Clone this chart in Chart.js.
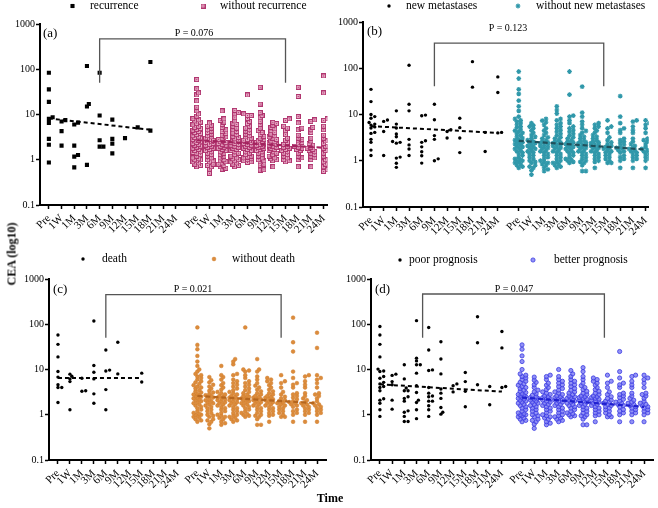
<!DOCTYPE html>
<html><head><meta charset="utf-8">
<script src="https://cdn.jsdelivr.net/npm/chart.js@4.4.1/dist/chart.umd.min.js"></script>
<style>
html,body{margin:0;padding:0;background:#fff;}
#wrap{position:relative;width:658px;height:508px;overflow:hidden;background:#fff;}
canvas{position:absolute;}
.t{position:absolute;font-family:"Liberation Serif","Times New Roman",serif;font-weight:bold;font-size:12px;color:#000;white-space:nowrap;}
</style></head><body>
<div id="wrap">
<canvas id="ca" width="336" height="250" style="left:0px;top:0px"></canvas>
<canvas id="cb" width="336" height="250" style="left:322px;top:0px"></canvas>
<canvas id="cc" width="336" height="258" style="left:0px;top:250px"></canvas>
<canvas id="cd" width="336" height="258" style="left:322px;top:250px"></canvas>
<div class="t" style="left:12px;top:254px;transform:translate(-50%,-50%) rotate(-90deg);">CEA (log10)</div>
<div class="t" style="left:330px;top:498px;transform:translate(-50%,-50%);">Time</div>
</div>
<script>
// ---------------- DATA ----------------
const timeLabels = ['Pre','1W','1M','3M','6M','9M','12M','15M','18M','21M','24M'];
const yTickValues = [0.1, 1, 10, 100, 1000];
const yTickLabels = ['0.1', '1', '10', '100', '1000'];

// (a)
const recurrence = [
  [84, 36, 19, 8.7, 8, 6.5, 2.9, 2.15, 0.87],
  [7.5, 7.0, 4.3, 2.05],
  [6.6, 6.0, 2.05, 1.27, 1.17, 0.68],
  [118, 17, 15, 0.77],
  [84, 9.5, 2.7, 1.95, 1.95],
  [7.7, 2.9, 2.27, 1.38],
  [3.0],
  [5.2],
  [145, 4.4],
  [],
  []
];
const withoutRecurrence = [
  [59, 37, 30, 27, 20, 14.5, 12, 10.3, 9.2, 8.1, 7.6, 7.2, 6.8, 6.3, 5.9, 5.5, 5.2, 4.9, 4.7, 4.5, 4.2, 4.0, 3.8, 3.6, 3.4, 3.2, 3.1, 3.0, 2.9, 2.8, 2.7, 2.6, 2.5, 2.4, 2.3, 2.2, 2.1, 2.0, 1.9, 1.8, 1.7, 1.6, 1.5, 1.45, 1.4, 1.3, 1.2, 1.1, 1.05, 1.0, 1.0, 0.95, 0.9, 0.85, 0.8, 0.75, 0.7],
  [6.5, 5.8, 5.5, 5.0, 4.6, 4.3, 4.0, 3.7, 3.4, 3.2, 3.0, 2.8, 2.7, 2.6, 2.5, 2.4, 2.3, 2.2, 2.1, 2.0, 1.9, 1.8, 1.7, 1.6, 1.5, 1.4, 1.3, 1.2, 1.1, 1.0, 0.95, 0.9, 0.8, 0.75, 0.7, 0.62, 0.5],
  [12, 8, 7.4, 6.8, 6.0, 5.2, 4.6, 4.2, 3.8, 3.5, 3.2, 3.0, 2.8, 2.6, 2.5, 2.4, 2.3, 2.2, 2.1, 2.0, 1.9, 1.8, 1.7, 1.6, 1.5, 1.4, 1.3, 1.2, 1.1, 1.0, 0.95, 0.9, 0.85, 0.8, 0.75, 0.7, 0.65, 0.62],
  [12.3, 11, 10.3, 8.5, 7.2, 6.4, 6.0, 5.5, 5.0, 4.6, 4.2, 3.9, 3.6, 3.3, 3.1, 2.9, 2.7, 2.6, 2.5, 2.4, 2.3, 2.2, 2.1, 2.0, 1.9, 1.8, 1.7, 1.6, 1.5, 1.4, 1.3, 1.2, 1.1, 1.05, 1.0, 0.95, 0.9, 0.85, 0.8, 0.75, 0.7],
  [27, 10.3, 9.5, 9.5, 8.2, 7.0, 6.3, 5.5, 5.0, 4.6, 4.3, 4.0, 3.7, 3.4, 3.2, 3.0, 2.8, 2.7, 2.6, 2.5, 2.4, 2.3, 2.2, 2.1, 2.0, 1.9, 1.8, 1.7, 1.6, 1.5, 1.4, 1.3, 1.2, 1.15, 1.1, 1.05, 1.0, 0.95, 0.9, 0.87],
  [40, 17, 11, 9.5, 8.5, 7.0, 6.0, 5.0, 4.4, 4.0, 3.6, 3.3, 3.0, 2.8, 2.6, 2.5, 2.4, 2.3, 2.2, 2.1, 2.0, 1.9, 1.8, 1.7, 1.6, 1.5, 1.4, 1.3, 1.2, 1.1, 1.0, 0.95, 0.9, 0.8, 0.75, 0.6, 0.59],
  [6.7, 6.3, 5.8, 5.2, 4.8, 4.4, 4.0, 3.7, 3.4, 3.2, 3.0, 2.8, 2.6, 2.5, 2.4, 2.3, 2.2, 2.1, 2.0, 1.9, 1.8, 1.7, 1.6, 1.5, 1.4, 1.3, 1.2, 1.1, 1.05, 1.0, 0.95, 0.7],
  [8.0, 7.4, 5.5, 5.0, 4.4, 3.6, 3.0, 2.7, 2.4, 2.2, 2.0, 1.9, 1.8, 1.7, 1.6, 1.5, 1.4, 1.3, 1.2, 1.1, 1.0, 0.95, 0.9],
  [40, 25, 9, 6.5, 5.0, 4.6, 3.5, 3.0, 2.8, 2.6, 2.4, 2.2, 2.0, 1.9, 1.8, 1.7, 1.6, 1.4, 1.2, 1.1, 1.0, 0.7],
  [7.6, 7.0, 5.2, 4.6, 4.0, 3.0, 2.6, 2.3, 2.1, 1.9, 1.8, 1.7, 1.6, 1.5, 1.4, 1.3, 1.2, 1.1, 1.0, 0.7],
  [71, 30, 8, 7.4, 5.5, 4.6, 3.5, 3.0, 2.6, 2.3, 2.0, 1.8, 1.6, 1.4, 1.2, 1.0, 0.9, 0.8, 0.7, 0.6, 0.55]
];
// (b)
const newMetastases = [
  [35, 19, 10, 9.0, 8.3, 6.7, 6.2, 5.9, 5.4, 5.1, 4.1, 3.9, 2.9, 2.5, 1.7, 1.3],
  [7.6, 7.1, 4.3, 1.3],
  [12, 6.2, 5.1, 3.8, 3.3, 2.6, 2.5, 2.4, 1.2, 1.14, 0.88, 0.72],
  [116, 16.7, 12, 2.9, 2.2, 1.8, 1.3],
  [9.7, 9.4, 2.7, 2.5, 2.0, 1.56, 1.28, 0.89],
  [16.7, 7.7, 3.5, 2.9, 1.1, 1.0],
  [4.7, 4.3, 3.1],
  [8.3, 5.2, 3.1, 1.5],
  [139, 39],
  [4.1, 1.59],
  [65, 30, 4.1, 4.0]
];
const withoutNewMetastases = [
  [85, 60, 35, 28, 20, 15, 12, 9, 8, 7.5, 7, 6.5, 6, 5.5, 5.2, 4.8, 4.5, 4.2, 4, 3.8, 3.5, 3.3, 3.1, 2.9, 2.8, 2.7, 2.6, 2.5, 2.4, 2.3, 2.2, 2.1, 2, 1.9, 1.8, 1.7, 1.6, 1.5, 1.4, 1.3, 1.2, 1.1, 1.05, 1, 1, 0.95, 0.9, 0.85, 0.8, 0.75, 0.7],
  [6.5, 5.8, 5.5, 5.0, 4.5, 4.0, 3.6, 3.3, 3.0, 2.8, 2.6, 2.5, 2.4, 2.2, 2.1, 2.0, 1.9, 1.8, 1.7, 1.6, 1.5, 1.4, 1.3, 1.2, 1.1, 1.0, 0.95, 0.9, 0.8, 0.75, 0.7, 0.62, 0.5],
  [8, 7.4, 6.8, 6.0, 5.0, 4.5, 4.0, 3.6, 3.2, 3.0, 2.8, 2.6, 2.5, 2.4, 2.3, 2.2, 2.1, 2.0, 1.9, 1.8, 1.7, 1.6, 1.5, 1.4, 1.3, 1.2, 1.1, 1.0, 0.95, 0.9, 0.85, 0.8, 0.7, 0.65, 0.6],
  [15, 12.5, 10.5, 8, 7.5, 6.5, 6, 5.5, 5, 4.6, 4.2, 3.8, 3.5, 3.2, 3.0, 2.8, 2.6, 2.5, 2.4, 2.3, 2.2, 2.1, 2.0, 1.9, 1.8, 1.7, 1.6, 1.5, 1.4, 1.3, 1.2, 1.1, 1.0, 0.95, 0.9, 0.85, 0.8, 0.75, 0.7],
  [85, 27, 9.5, 9, 7.5, 6.5, 5.5, 5, 4.6, 4.2, 3.8, 3.5, 3.2, 3.0, 2.8, 2.6, 2.5, 2.4, 2.3, 2.2, 2.1, 2.0, 1.9, 1.8, 1.7, 1.6, 1.5, 1.4, 1.3, 1.2, 1.1, 1.05, 1.0, 0.95, 0.9],
  [40, 11, 9, 7, 6, 5, 4.4, 4.0, 3.6, 3.3, 3.0, 2.8, 2.6, 2.5, 2.4, 2.3, 2.2, 2.1, 2.0, 1.9, 1.8, 1.7, 1.6, 1.5, 1.4, 1.3, 1.2, 1.1, 1.0, 0.95, 0.9, 0.8, 0.6, 0.6],
  [6.5, 6.0, 5.5, 5.0, 4.5, 4.0, 3.6, 3.3, 3.0, 2.8, 2.6, 2.5, 2.4, 2.3, 2.2, 2.1, 2.0, 1.9, 1.8, 1.7, 1.6, 1.5, 1.4, 1.3, 1.2, 1.1, 1.0, 0.95, 0.7],
  [7.5, 5.5, 5.0, 4.0, 3.2, 2.8, 2.5, 2.3, 2.1, 2.0, 1.9, 1.8, 1.7, 1.6, 1.5, 1.4, 1.3, 1.2, 1.1, 1.0, 0.9, 0.9],
  [25, 9, 6.5, 5.0, 4.6, 4.0, 3.0, 2.8, 2.6, 2.4, 2.2, 2.0, 1.9, 1.8, 1.7, 1.6, 1.5, 1.3, 1.2, 1.1, 1.0, 0.7],
  [7.5, 7.0, 5.5, 4.6, 4.0, 3.0, 2.6, 2.3, 2.1, 1.9, 1.8, 1.7, 1.6, 1.5, 1.4, 1.3, 1.2, 1.1, 1.0, 0.7],
  [7.5, 6.5, 6.0, 5.0, 4.0, 3.0, 2.8, 2.6, 2.3, 2.0, 1.8, 1.7, 1.6, 1.5, 1.4, 1.3, 1.2, 1.1, 1.0, 0.7]
];
// (c)
const death = [
  [58, 36, 19, 9, 6.8, 4.6, 4.0, 4.0, 1.87],
  [7.9, 7.1, 6.2, 5.4, 1.29],
  [6.4, 3.4, 3.3],
  [118, 12.3, 8.7, 6.2, 2.9, 1.8],
  [27, 9.7, 9.3, 3.6, 1.29],
  [40, 8.0],
  [],
  [8.3, 5.3],
  [],
  [],
  []
];
const withoutDeath = [
  [85, 35, 28, 20, 15, 12, 10, 9, 8, 7.5, 7, 6.5, 6, 5.5, 5.2, 4.8, 4.5, 4.2, 4, 3.8, 3.5, 3.3, 3.1, 2.9, 2.8, 2.7, 2.6, 2.5, 2.4, 2.3, 2.2, 2.1, 2, 1.9, 1.8, 1.7, 1.6, 1.5, 1.4, 1.3, 1.2, 1.1, 1.05, 1, 1, 0.95, 0.9, 0.85, 0.8, 0.75, 0.7],
  [6.8, 5.8, 5.2, 4.6, 4.2, 3.8, 3.4, 3.1, 2.9, 2.7, 2.6, 2.5, 2.4, 2.2, 2.1, 2.0, 1.9, 1.8, 1.7, 1.6, 1.5, 1.4, 1.3, 1.2, 1.1, 1.0, 0.95, 0.9, 0.8, 0.75, 0.7, 0.62, 0.5],
  [12, 7.5, 6.8, 6.0, 5.0, 4.5, 4.0, 3.6, 3.2, 3.0, 2.8, 2.6, 2.5, 2.4, 2.3, 2.2, 2.1, 2.0, 1.9, 1.8, 1.7, 1.6, 1.5, 1.4, 1.3, 1.2, 1.1, 1.0, 0.95, 0.9, 0.85, 0.8, 0.7, 0.65, 0.6],
  [17, 15, 13, 8, 7.5, 6, 5.5, 5, 4.6, 4.2, 3.8, 3.5, 3.2, 3.0, 2.8, 2.6, 2.5, 2.4, 2.3, 2.2, 2.1, 2.0, 1.9, 1.8, 1.7, 1.6, 1.5, 1.4, 1.3, 1.2, 1.1, 1.0, 0.95, 0.9, 0.85, 0.8, 0.75, 0.7],
  [85, 10, 9.5, 9, 7.5, 6.5, 5.5, 5, 4.6, 4.2, 3.8, 3.5, 3.2, 3.0, 2.8, 2.6, 2.5, 2.4, 2.3, 2.2, 2.1, 2.0, 1.9, 1.8, 1.7, 1.6, 1.5, 1.4, 1.3, 1.2, 1.1, 1.05, 1.0, 0.95, 0.9],
  [17, 10, 9, 7, 6, 5, 4.4, 4.0, 3.6, 3.3, 3.0, 2.8, 2.6, 2.5, 2.4, 2.3, 2.2, 2.1, 2.0, 1.9, 1.8, 1.7, 1.6, 1.5, 1.4, 1.3, 1.2, 1.1, 1.0, 0.95, 0.9, 0.8, 0.6, 0.6],
  [6.5, 6.0, 5.5, 5.0, 4.5, 4.0, 3.6, 3.3, 3.0, 2.8, 2.6, 2.5, 2.4, 2.3, 2.2, 2.1, 2.0, 1.9, 1.8, 1.7, 1.6, 1.5, 1.4, 1.3, 1.2, 1.1, 1.0, 0.95, 0.7],
  [7.5, 5.5, 5.0, 4.0, 3.2, 2.8, 2.5, 2.3, 2.1, 2.0, 1.9, 1.8, 1.7, 1.6, 1.5, 1.4, 1.3, 1.2, 1.1, 1.0, 0.9, 0.9],
  [140, 40, 25, 9, 6.5, 5.0, 4.6, 4.0, 3.0, 2.8, 2.6, 2.4, 2.2, 2.0, 1.9, 1.8, 1.7, 1.6, 1.5, 1.3, 1.2, 1.1, 1.0, 0.7],
  [7.5, 7.0, 5.5, 4.6, 4.0, 3.0, 2.6, 2.3, 2.1, 1.9, 1.8, 1.7, 1.6, 1.5, 1.4, 1.3, 1.2, 1.1, 1.0, 0.7],
  [65, 30, 7.5, 6.5, 6.0, 5.0, 4.0, 3.0, 2.8, 2.6, 2.3, 2.0, 1.8, 1.7, 1.6, 1.5, 1.4, 1.3, 1.2, 1.1, 1.0, 0.7]
];
// (d)
const poorPrognosis = [
  [89, 58, 36, 19, 10.2, 9.3, 9, 7, 6.4, 5.2, 4.8, 4.2, 4.0, 3.4, 2.25, 2.1, 1.8, 1.29, 0.92],
  [7.9, 7.4, 5.4, 4.6, 2.1, 1.33],
  [12.7, 6.2, 3.9, 3.4, 3.4, 2.5, 2.3, 2.0, 1.22, 1.14, 0.92, 0.71, 0.71],
  [120, 17.8, 15.5, 12.7, 12.7, 8.3, 4.4, 3.1, 2.1, 1.87, 1.29, 0.82],
  [85, 27, 9.8, 9.5, 4.0, 3.0, 2.6, 2.5, 2.0, 2.0, 1.58, 1.29, 0.92],
  [41, 17, 8, 3.7, 3.0, 2.3, 1.45, 1.14, 1.03],
  [4.8, 4.4, 3.2],
  [8.6, 5.4, 3.3, 1.5],
  [147, 39, 4.6],
  [4.2, 1.66],
  [69, 30, 4.2, 4.0]
];
const betterPrognosis = [
  [35, 28, 20, 15, 10, 8, 7.5, 7, 6.5, 6, 5.5, 5.2, 4.8, 4.5, 4.2, 4, 3.8, 3.5, 3.3, 3.1, 2.9, 2.8, 2.7, 2.6, 2.5, 2.4, 2.3, 2.2, 2.1, 2, 1.9, 1.8, 1.7, 1.6, 1.5, 1.4, 1.3, 1.2, 1.1, 1.05, 1, 1, 0.95, 0.9, 0.85, 0.8, 0.75, 0.7],
  [6.8, 5.8, 5.2, 4.6, 4.0, 3.5, 3.2, 2.9, 2.7, 2.5, 2.4, 2.3, 2.2, 2.1, 2.0, 1.9, 1.8, 1.7, 1.6, 1.5, 1.4, 1.3, 1.2, 1.1, 1.0, 0.95, 0.9, 0.8, 0.75, 0.7, 0.62, 0.5],
  [7.5, 7.0, 6.0, 5.0, 4.5, 4.0, 3.6, 3.2, 3.0, 2.8, 2.6, 2.5, 2.4, 2.3, 2.2, 2.1, 2.0, 1.9, 1.8, 1.7, 1.6, 1.5, 1.4, 1.3, 1.2, 1.1, 1.0, 0.95, 0.9, 0.85, 0.8, 0.7, 0.65, 0.6],
  [10, 7, 6, 5.5, 5, 4.6, 4.2, 3.8, 3.5, 3.2, 3.0, 2.8, 2.6, 2.5, 2.4, 2.3, 2.2, 2.1, 2.0, 1.9, 1.8, 1.7, 1.6, 1.5, 1.4, 1.3, 1.2, 1.1, 1.0, 0.95, 0.9, 0.85, 0.8, 0.75, 0.7],
  [9.5, 8, 7, 6, 5.5, 5, 4.6, 4.2, 3.8, 3.5, 3.2, 3.0, 2.8, 2.6, 2.5, 2.4, 2.3, 2.2, 2.1, 2.0, 1.9, 1.8, 1.7, 1.6, 1.5, 1.4, 1.3, 1.2, 1.1, 1.05, 1.0, 0.95, 0.9],
  [11, 9, 7, 6, 5, 4.4, 4.0, 3.6, 3.3, 3.0, 2.8, 2.6, 2.5, 2.4, 2.3, 2.2, 2.1, 2.0, 1.9, 1.8, 1.7, 1.6, 1.5, 1.4, 1.3, 1.2, 1.1, 1.0, 0.95, 0.9, 0.8, 0.6, 0.6],
  [6.5, 6.0, 5.5, 5.0, 4.5, 4.0, 3.6, 3.3, 3.0, 2.8, 2.6, 2.5, 2.4, 2.3, 2.2, 2.1, 2.0, 1.9, 1.8, 1.7, 1.6, 1.5, 1.4, 1.3, 1.2, 1.1, 1.0, 0.95, 0.7],
  [7.5, 5.5, 5.0, 4.0, 3.2, 2.8, 2.5, 2.3, 2.1, 2.0, 1.9, 1.8, 1.7, 1.6, 1.5, 1.4, 1.3, 1.2, 1.1, 1.0, 0.9, 0.9],
  [25, 9, 6.5, 5.0, 4.6, 4.0, 3.0, 2.8, 2.6, 2.4, 2.2, 2.0, 1.9, 1.8, 1.7, 1.6, 1.5, 1.3, 1.2, 1.1, 1.0, 0.7],
  [7.5, 7.0, 5.5, 4.6, 4.0, 3.0, 2.6, 2.3, 2.1, 1.9, 1.8, 1.7, 1.6, 1.5, 1.4, 1.3, 1.2, 1.1, 1.0, 0.7],
  [7.5, 6.5, 6.0, 5.0, 4.0, 3.0, 2.8, 2.6, 2.3, 2.0, 1.8, 1.7, 1.6, 1.5, 1.4, 1.3, 1.2, 1.1, 1.0, 0.7]
];

// trend lines: [start value, end value] and category span [from, to]
const recurrenceTrend = [8.2, 4.6], recurrenceTrendSpan = [0, 8];
const withoutRecurrenceTrend = [2.7, 1.85], withoutRecurrenceTrendSpan = [0, 10];
const newMetastasesTrend = [5.6, 4.0], newMetastasesTrendSpan = [0, 10];
const withoutNewMetastasesTrend = [2.7, 1.75], withoutNewMetastasesTrendSpan = [0, 10];
const deathTrend = [6.5, 6.5], deathTrendSpan = [0, 7];
const withoutDeathTrend = [2.6, 1.8], withoutDeathTrendSpan = [0, 10];
const poorPrognosisTrend = [4.7, 3.25], poorPrognosisTrendSpan = [0, 10];
const betterPrognosisTrend = [2.4, 1.5], betterPrognosisTrendSpan = [0, 10];

// P values and comparison brackets (category anchors, value heights)
const pValues = ['P = 0.076', 'P = 0.123', 'P = 0.021', 'P = 0.047'];
const bracketFrom = [4, 5, 4, 3.5];          // left group category position
const bracketTo = [7, 6.7, 7, 6.75];         // right group category position
const bracketTop = [470, 350, 450, 466];
const bracketBottom = [50, 41, 50, 50];

// ---------------- LAYOUT / RENDER ----------------
const GAP = 11.65; // position of first category of second group
const SERIF = '"Liberation Serif","Times New Roman",serif';

function swarm(groups, offset, pxDec, pxUnit) {
  const out = [];
  groups.forEach((vals, ci) => {
    const center = offset + ci;
    const placed = [];
    const sorted = vals.slice().sort((a, b) => a - b);
    for (const v of sorted) {
      const py = Math.log10(v) * pxDec;
      let best = 0, bestOv = Infinity;
      const cands = [0, 1, -1, 2, -2];
      for (const k of cands) {
        const px = k * 1.9;
        let ov = 0;
        for (const p of placed) {
          const d = Math.hypot(p.px - px, p.py - py);
          if (d < 2.7) ov += (2.7 - d);
        }
        ov += Math.abs(k) * 0.001;
        if (ov < bestOv) { bestOv = ov; best = px; }
        if (ov < 0.01) break;
      }
      placed.push({ px: best, py });
      out.push({ x: center + best / pxUnit, y: v });
    }
  });
  return out;
}
function trendPts(vals, span, offset) {
  return [{ x: offset + span[0], y: vals[0] }, { x: offset + span[1], y: vals[1] }];
}

function makeMarkerBox() {
  const c = document.createElement('canvas');
  c.width = 5; c.height = 5;
  const g = c.getContext('2d');
  g.fillStyle = '#E7A9C4'; g.fillRect(0, 0, 5, 5);
  g.strokeStyle = '#B0356F'; g.lineWidth = 1;
  g.strokeRect(0.5, 0.5, 4, 4);
  g.fillStyle = '#B0356F'; g.fillRect(2, 2, 1, 1);
  return c;
}
const boxMarker = makeMarkerBox();

function drawMarker(ctx, st, x, y) {
  ctx.save();
  ctx.fillStyle = st.backgroundColor; ctx.strokeStyle = st.borderColor; ctx.lineWidth = st.borderWidth;
  if (Chart.helpers && Chart.helpers.drawPoint) {
    Chart.helpers.drawPoint(ctx, { pointStyle: st.pointStyle, radius: st.pointRadius, rotation: 0, borderWidth: st.borderWidth }, x, y);
  } else {
    ctx.beginPath(); ctx.arc(x, y, st.pointRadius, 0, Math.PI * 2); ctx.fill();
  }
  ctx.restore();
}

const blackSquare = { pointStyle: 'rect', pointRadius: 2.9, backgroundColor: '#000', borderColor: '#000', borderWidth: 0 };
const blackDot = { pointStyle: 'circle', pointRadius: 1.7, backgroundColor: '#000', borderColor: '#000', borderWidth: 0 };
const pinkBox = { pointStyle: boxMarker, pointRadius: 2.5, backgroundColor: '#E7A9C4', borderColor: '#B0356F', borderWidth: 1 };
const tealStar = { pointStyle: 'star', pointRadius: 2.4, backgroundColor: '#3098AA', borderColor: '#3098AA', borderWidth: 1.2 };
const orangeDot = { pointStyle: 'circle', pointRadius: 1.9, backgroundColor: '#DC8C3C', borderColor: '#D07F2E', borderWidth: 0.5 };
const blueDot = { pointStyle: 'circle', pointRadius: 2.1, backgroundColor: 'rgba(120,120,242,0.8)', borderColor: '#3A3AE2', borderWidth: 0.8 };

function makePanel(p) {
  const canvas = document.getElementById(p.id);
  const positions = timeLabels.map((_, i) => i).concat(timeLabels.map((_, i) => GAP + i));
  const labels = timeLabels.concat(timeLabels);
  const pxUnit = p.pxUnit, pxDec = p.pxDec;
  const panelPlugin = {
    id: 'panel' + p.id,
    afterDraw(chart) {
      const ctx = chart.ctx;
      const xs = chart.scales.x, ys = chart.scales.y;
      ctx.save();
      const bx1 = xs.getPixelForValue(p.bracket.from), bx2 = xs.getPixelForValue(GAP + p.bracket.to);
      const byT = ys.getPixelForValue(p.bracket.top), byB = ys.getPixelForValue(p.bracket.bottom);
      ctx.strokeStyle = '#555'; ctx.lineWidth = 1.3;
      ctx.beginPath();
      ctx.moveTo(bx1, byB); ctx.lineTo(bx1, byT); ctx.lineTo(bx2, byT); ctx.lineTo(bx2, byB);
      ctx.stroke();
      ctx.fillStyle = '#000';
      ctx.font = '10px ' + SERIF; ctx.textAlign = 'center'; ctx.textBaseline = 'middle';
      ctx.fillText(p.bracket.label, p.ptext[0], p.ptext[1]);
      ctx.font = '13px ' + SERIF; ctx.textAlign = 'left';
      ctx.fillText(p.label, p.labelPos[0], p.labelPos[1]);
      ctx.font = '11.5px ' + SERIF;
      p.legend.forEach(it => {
        drawMarker(ctx, it.style, it.mx, it.y);
        ctx.fillStyle = '#000';
        ctx.fillText(it.text, it.tx, it.y);
      });
      ctx.restore();
    }
  };
  return new Chart(canvas, {
    type: 'scatter',
    data: {
      datasets: [
        Object.assign({ data: swarm(p.left, 0, pxDec, pxUnit), order: 2 }, p.leftStyle),
        Object.assign({ data: swarm(p.right, GAP, pxDec, pxUnit), order: 3 }, p.rightStyle),
        { type: 'line', data: trendPts(p.leftTrend, p.leftSpan, 0), showLine: true, borderColor: '#000', borderWidth: 2, borderDash: [4, 3], pointRadius: 0, order: 0 },
        { type: 'line', data: trendPts(p.rightTrend, p.rightSpan, GAP), showLine: true, borderColor: p.rightTrendColor, borderWidth: 2.2, borderDash: [5, 3], pointRadius: 0, order: 1 }
      ]
    },
    options: {
      responsive: false, animation: false, devicePixelRatio: 1,
      layout: { padding: { left: 0, right: p.padRight, top: p.padTop, bottom: p.padBottom } },
      plugins: { legend: { display: false }, tooltip: { enabled: false } },
      scales: {
        x: {
          type: 'linear', min: p.xMin, max: p.xMax,
          afterBuildTicks(s) { s.ticks = positions.map(v => ({ value: v })); },
          afterFit(s) { s.height = 40; },
          ticks: { autoSkip: false, minRotation: 45, maxRotation: 45, padding: 3, color: '#000',
            font: { family: SERIF, size: 11 }, callback: (v, i) => labels[i] },
          grid: { display: true, drawOnChartArea: false, drawTicks: true, tickLength: 4, color: '#000', tickWidth: 1.5 },
          border: { display: true, color: '#000', width: 2 }
        },
        y: {
          type: 'logarithmic', min: 0.1, max: 1000,
          afterBuildTicks(s) { s.ticks = yTickValues.map(v => ({ value: v })); },
          afterFit(s) { s.width = p.yAxisW; },
          ticks: { autoSkip: false, padding: 1, color: '#000', font: { family: SERIF, size: 10 },
            callback: (v, i) => yTickLabels[i] },
          grid: { display: true, drawOnChartArea: false, drawTicks: true, tickLength: 4, color: '#000', tickWidth: 1.5 },
          border: { display: true, color: '#000', width: 2 }
        }
      }
    },
    plugins: [panelPlugin]
  });
}

makePanel({
  id: 'ca', left: recurrence, right: withoutRecurrence,
  leftStyle: blackSquare, rightStyle: pinkBox, rightTrendColor: '#A3225E',
  leftTrend: recurrenceTrend, leftSpan: recurrenceTrendSpan,
  rightTrend: withoutRecurrenceTrend, rightSpan: withoutRecurrenceTrendSpan,
  yAxisW: 40, padRight: 6, padTop: 24, padBottom: 5, xMin: -0.7, xMax: 21.96, pxUnit: 12.8, pxDec: 45,
  bracket: { from: bracketFrom[0], to: bracketTo[0], top: bracketTop[0], bottom: bracketBottom[0], label: pValues[0] },
  ptext: [194, 33], label: '(a)', labelPos: [43, 34],
  legend: [
    { style: blackSquare, mx: 72.5, tx: 90, y: 6, text: 'recurrence' },
    { style: pinkBox, mx: 203, tx: 220, y: 6, text: 'without recurrence' }
  ]
});
makePanel({
  id: 'cb', left: newMetastases, right: withoutNewMetastases,
  leftStyle: blackDot, rightStyle: tealStar, rightTrendColor: '#1F4F5A',
  leftTrend: newMetastasesTrend, leftSpan: newMetastasesTrendSpan,
  rightTrend: withoutNewMetastasesTrend, rightSpan: withoutNewMetastasesTrendSpan,
  yAxisW: 41, padRight: 7, padTop: 22, padBottom: 3, xMin: -0.63, xMax: 21.9, pxUnit: 12.8, pxDec: 46,
  bracket: { from: bracketFrom[1], to: bracketTo[1], top: bracketTop[1], bottom: bracketBottom[1], label: pValues[1] },
  ptext: [186, 28], label: '(b)', labelPos: [45, 32],
  legend: [
    { style: blackDot, mx: 67, tx: 84, y: 6, text: 'new metastases' },
    { style: tealStar, mx: 196, tx: 214, y: 6, text: 'without new metastases' }
  ]
});
makePanel({
  id: 'cc', left: death, right: withoutDeath,
  leftStyle: blackDot, rightStyle: orangeDot, rightTrendColor: '#B5661E',
  leftTrend: deathTrend, leftSpan: deathTrendSpan,
  rightTrend: withoutDeathTrend, rightSpan: withoutDeathTrendSpan,
  yAxisW: 49, padRight: 10, padTop: 29, padBottom: 8, xMin: -0.75, xMax: 22.4, pxUnit: 12, pxDec: 45,
  bracket: { from: bracketFrom[2], to: bracketTo[2], top: bracketTop[2], bottom: bracketBottom[2], label: pValues[2] },
  ptext: [193, 39], label: '(c)', labelPos: [53, 40],
  legend: [
    { style: blackDot, mx: 83, tx: 102, y: 9, text: 'death' },
    { style: orangeDot, mx: 214, tx: 232, y: 9, text: 'without death' }
  ]
});
makePanel({
  id: 'cd', left: poorPrognosis, right: betterPrognosis,
  leftStyle: blackDot, rightStyle: blueDot, rightTrendColor: '#1F1FCF',
  leftTrend: poorPrognosisTrend, leftSpan: poorPrognosisTrendSpan,
  rightTrend: betterPrognosisTrend, rightSpan: betterPrognosisTrendSpan,
  yAxisW: 49, padRight: 2, padTop: 29, padBottom: 8, xMin: -0.73, xMax: 22.4, pxUnit: 12.3, pxDec: 45,
  bracket: { from: bracketFrom[3], to: bracketTo[3], top: bracketTop[3], bottom: bracketBottom[3], label: pValues[3] },
  ptext: [192, 39], label: '(d)', labelPos: [53, 40],
  legend: [
    { style: blackDot, mx: 78, tx: 87, y: 10, text: 'poor prognosis' },
    { style: blueDot, mx: 211, tx: 232, y: 10, text: 'better prognosis' }
  ]
});
</script>
</body></html>
